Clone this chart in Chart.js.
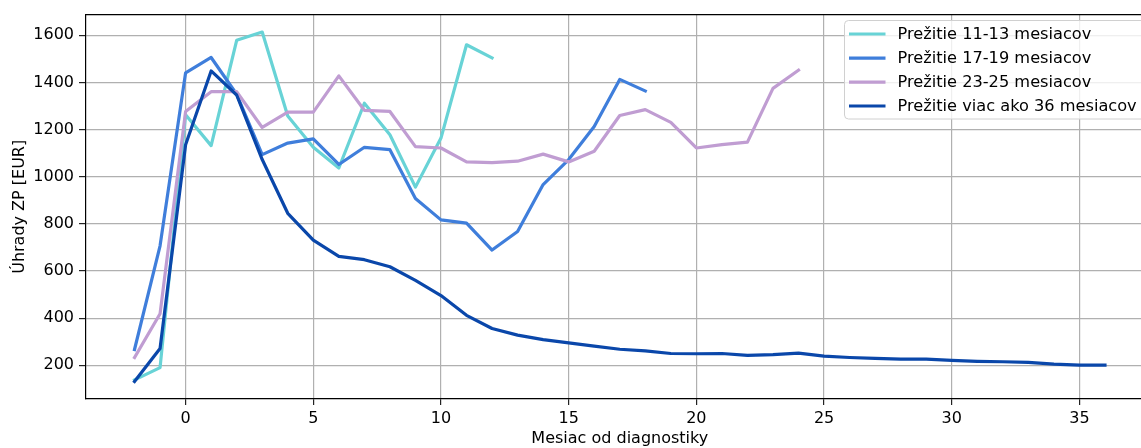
<!DOCTYPE html>
<html>
<head>
<meta charset="utf-8">
<script src="https://cdn.jsdelivr.net/npm/chart.js@4/dist/chart.umd.min.js"></script>
<style>
  html, body { margin: 0; padding: 0; background: #fff; overflow: hidden; }
  #wrap { position: relative; width: 1141px; height: 448px; overflow: hidden; }
  #c { display: block; }
</style>
</head>
<body>
<div id="wrap"><canvas id="c" width="1160" height="448"></canvas></div>
<script>
// ---- data ----
const months = [-2,-1,0,1,2,3,4,5,6,7,8,9,10,11,12,13,14,15,16,17,18,19,20,21,22,23,24,25,26,27,28,29,30,31,32,33,34,35,36];
const seriesLabels = ['Prežitie 11-13 mesiacov','Prežitie 17-19 mesiacov','Prežitie 23-25 mesiacov','Prežitie viac ako 36 mesiacov'];
const surv11_13 = [138,190,1263,1132,1579,1614,1258,1125,1037,1312,1178,956,1164,1560,1504];
const surv17_19 = [267,707,1441,1506,1350,1094,1143,1161,1052,1125,1115,908,817,803,689,768,967,1073,1213,1413,1364];
const surv23_25 = [233,419,1277,1361,1361,1209,1274,1274,1428,1282,1277,1128,1122,1063,1060,1066,1096,1063,1108,1260,1285,1231,1122,1136,1147,1375,1452];
const surv36plus = [131,271,1136,1449,1347,1073,845,731,662,648,618,560,496,412,356,328,309,295,281,268,261,250,249,250,242,245,252,239,233,229,226,226,221,217,215,212,205,201,201];
const xTickValues = [0,5,10,15,20,25,30,35];
const yTickValues = [200,400,600,800,1000,1200,1400,1600];
const xTitle = 'Mesiac od diagnostiky';
const yTitle = 'Úhrady ZP [EUR]';

const colors = ['#68d3d6','#3f7edb','#c09dd2','#0a47aa'];
const allSeries = [surv11_13, surv17_19, surv23_25, surv36plus];

const FONT = 'DejaVu Sans';
Chart.defaults.font.family = FONT;
Chart.defaults.font.size = 16;
Chart.defaults.color = '#000';

const datasets = allSeries.map((vals, i) => ({
  label: seriesLabels[i],
  data: vals.map((v, j) => ({ x: months[j], y: v })),
  borderColor: colors[i],
  backgroundColor: colors[i],
  borderWidth: 3.2,
  pointRadius: 0,
  tension: 0,
  fill: false,
  borderJoinStyle: 'round',
  borderCapStyle: 'square',
  order: 3 - i
}));

const framePlugin = {
  id: 'frame',
  afterDatasetsDraw(chart) {
    const { ctx, chartArea: a } = chart;
    ctx.save();
    ctx.strokeStyle = '#000';
    ctx.lineWidth = 1.2;
    ctx.beginPath();
    ctx.moveTo(a.left, a.top);
    ctx.lineTo(a.right + 20, a.top);
    ctx.stroke();
    ctx.restore();

    // legend box (matplotlib style); its right side lies beyond the visible picture
    const boxL = 844.5, boxT = 20.5, boxR = a.right + 10, boxB = 119;
    const r = 4;
    ctx.save();
    ctx.beginPath();
    ctx.moveTo(boxR, boxT);
    ctx.lineTo(boxL + r, boxT);
    ctx.quadraticCurveTo(boxL, boxT, boxL, boxT + r);
    ctx.lineTo(boxL, boxB - r);
    ctx.quadraticCurveTo(boxL, boxB, boxL + r, boxB);
    ctx.lineTo(boxR, boxB);
    ctx.fillStyle = 'rgba(255,255,255,0.8)';
    ctx.fill();
    ctx.strokeStyle = '#d0d0d0';
    ctx.lineWidth = 1;
    ctx.stroke();
    const rows = [34, 58.2, 82.2, 106];
    chart.data.datasets.forEach((ds, i) => {
      const y = rows[i];
      ctx.strokeStyle = ds.borderColor;
      ctx.lineWidth = 3.2;
      ctx.lineCap = 'butt';
      ctx.beginPath();
      ctx.moveTo(849, y);
      ctx.lineTo(885.5, y);
      ctx.stroke();
      ctx.fillStyle = '#000';
      ctx.font = '16.2px "' + FONT + '"';
      ctx.textBaseline = 'middle';
      ctx.textAlign = 'left';
      ctx.fillText(ds.label, 897.5, y + 1);
    });
    ctx.restore();
  }
};

new Chart(document.getElementById('c'), {
  type: 'line',
  data: { datasets },
  plugins: [framePlugin],
  options: {
    responsive: false,
    maintainAspectRatio: false,
    devicePixelRatio: 1,
    animation: false,
    layout: { padding: { top: 12.5, right: 6.5, left: 0, bottom: 0 } },
    plugins: { legend: { display: false }, tooltip: { enabled: false } },
    scales: {
      x: {
        type: 'linear',
        min: -3.9,
        max: 37.9,
        afterBuildTicks: (s) => { s.ticks = xTickValues.map(v => ({ value: v })); },
        afterFit: (s) => { s.height = 49; },
        ticks: { padding: 4.5, maxRotation: 0, autoSkip: false, font: { size: 16 }, callback: (v) => String(v) },
        grid: { color: '#b0b0b0', lineWidth: 1.2, tickLength: 6, tickColor: '#222', drawTicks: true },
        border: { color: '#000', width: 1.2 },
        title: { display: true, text: xTitle, font: { size: 16 }, padding: { top: 0, bottom: 0 } }
      },
      y: {
        type: 'linear',
        min: 57,
        max: 1688,
        afterBuildTicks: (s) => { s.ticks = yTickValues.map(v => ({ value: v })); },
        afterFit: (s) => { s.width = 86; },
        ticks: { padding: 5, font: { size: 16 }, callback: (v) => String(v) },
        grid: { color: '#b0b0b0', lineWidth: 1.2, tickLength: 7, tickColor: '#222', drawTicks: true },
        border: { color: '#000', width: 1.2 },
        title: { display: true, text: yTitle, font: { size: 16 }, padding: { top: 10, bottom: 0 } }
      }
    }
  }
});
</script>
</body>
</html>
